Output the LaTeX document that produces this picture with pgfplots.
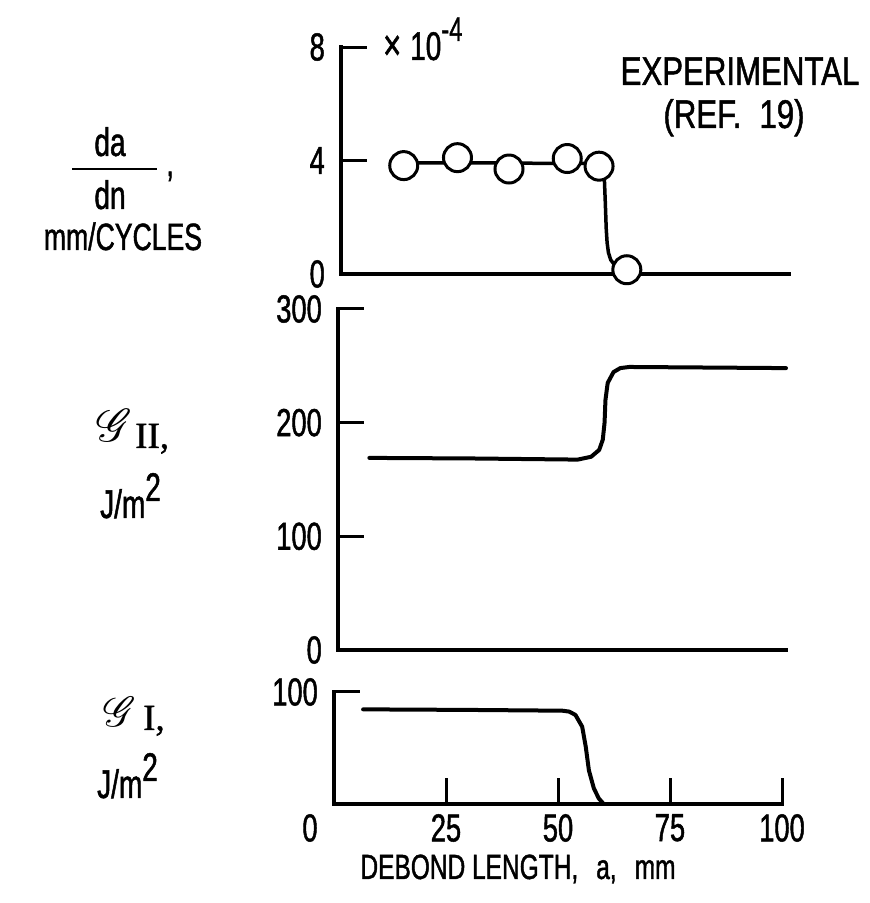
\documentclass[border=0pt]{standalone}
\usepackage{fontspec}
\setmainfont{Liberation Sans}[FakeStretch=0.70, FakeBold=1.2]
\newfontfamily\widefont{Liberation Sans}[FakeStretch=0.78, FakeBold=1.2]
\newfontfamily\romanfont{Liberation Serif}[FakeBold=1.2]
\usepackage{graphicx}
\usepackage{mathrsfs}
\usepackage{pgfplots}
\pgfplotsset{compat=1.18}

\newcommand\lbl{\fontsize{40}{44}\selectfont}
\newcommand\tck{\fontsize{39}{42}\selectfont}

\begin{document}
\begin{tikzpicture}[x=1pt,y=1pt]
\useasboundingbox (0,0) rectangle (870,903);
\pgfplotsset{
  panel/.style={
    scale only axis, width=448pt,
    xmin=0, xmax=100,
    axis x line*=bottom, axis y line*=left,
    axis line style={line width=4pt, -, line cap=rect},
    tick align=inside, major tick length=26pt,
    tick style={black, line width=3pt},
    tick label style={font=\tck, inner sep=0pt},
    /pgf/number format/assume math mode=true,
    yticklabel style={xshift=-16pt},
    xticklabel style={yshift=-10pt},
    clip=false,
  },
  curve/.style={black, line width=4pt, line join=round, line cap=round},
}

% crack growth rate, da/dn (x 10^-4 mm/cycle)
\begin{axis}[panel, at={(341pt,629pt)}, anchor=south west, height=227pt,
  ymin=0, ymax=8, ytick={0,4,8}, xtick=\empty]
\addplot[curve, line width=3.5pt] coordinates {
  (14,3.92) (30,3.92) (45,3.9) (57,3.9) (58.4,3.75) (58.8,3.3) (59.0,2.5)
  (59.2,1.6) (59.4,1.1) (59.7,0.75) (60.2,0.5) (61,0.33) (62.5,0.2) (64,0.15)};
\addplot[only marks, mark=*, mark size=14pt,
  mark options={fill=white, draw=black, line width=3pt}] coordinates {
  (14,3.82) (26,4.1) (37.5,3.7) (50.5,4.07) (57.6,3.8) (63.8,0.15)};
\end{axis}

% mode II strain energy release rate
\begin{axis}[panel, at={(338pt,253pt)}, anchor=south west, height=341pt,
  ymin=0, ymax=300, ytick={0,100,200,300}, xtick=\empty]
\addplot[curve] coordinates {
  (7,169) (30,168.5) (53.5,167.5) (56.5,170) (58.3,176) (59.1,185) (59.5,200)
  (59.7,220) (60.2,235) (61.5,244.5) (63,248) (65,249) (100,248)};
\end{axis}

% mode I strain energy release rate
\begin{axis}[panel, at={(334pt,99pt)}, anchor=south west, height=112pt,
  ymin=0, ymax=100, ytick={0,100}, yticklabels={{},100},
  xtick={25,50,75,100},
  extra x ticks={0}, extra x tick style={xticklabel style={xshift=-24pt}}]
\addplot[curve] coordinates {
  (6.5,84.5) (30,84) (51,83.3) (52.5,82.5) (53.9,79.5) (55.4,69) (56.2,51)
  (56.9,30) (58,14) (59.1,5) (60.2,0)};
\end{axis}

% annotations
\node[font=\lbl, anchor=base west, inner sep=0pt] at (383,843)
  {{\fontsize{44}{44}\selectfont ×}\hspace{9pt}10\raisebox{19pt}{\fontsize{34}{34}\selectfont -4}};
\node[font=\fontsize{40}{44}\selectfont\widefont, anchor=base, inner sep=0pt] at (740,818) {EXPERIMENTAL};
\node[font=\fontsize{40}{44}\selectfont\widefont, anchor=base, inner sep=0pt] at (734,775) {(REF.\hspace{18pt}19)};
\node[font=\fontsize{35}{40}\selectfont, anchor=base, inner sep=0pt] at (518,24)
  {DEBOND LENGTH,\hspace{18pt}a,\hspace{18pt}mm};

% y-axis titles
\node[font=\lbl, anchor=base, inner sep=0pt] at (110,747) {da};
\draw[line width=2.5pt] (72,734) -- (157,734);
\node[font=\lbl, anchor=base west, inner sep=0pt] at (166,727) {,};
\node[font=\lbl, anchor=base, inner sep=0pt] at (110,694) {dn};
\node[font=\fontsize{38}{42}\selectfont, anchor=base, inner sep=0pt] at (123,653) {mm/CYCLES};

\node[anchor=south west, inner sep=0pt] at (96,461)
  {\scalebox{4.6}{$\mathscr{G}$}};
\node[anchor=base west, inner sep=0pt] at (135,455)
  {\fontsize{37}{40}\selectfont\romanfont II,};
\node[font=\lbl, anchor=base west, inner sep=0pt] at (100,385)
  {J/m\raisebox{17pt}{2}};

\node[anchor=south west, inner sep=0pt] at (103,176)
  {\scalebox{4.2}{$\mathscr{G}$}};
\node[anchor=base west, inner sep=0pt] at (143,173)
  {\fontsize{37}{40}\selectfont\romanfont I,};
\node[font=\lbl, anchor=base west, inner sep=0pt] at (97,105)
  {J/m\raisebox{17pt}{2}};
\end{tikzpicture}
\end{document}
